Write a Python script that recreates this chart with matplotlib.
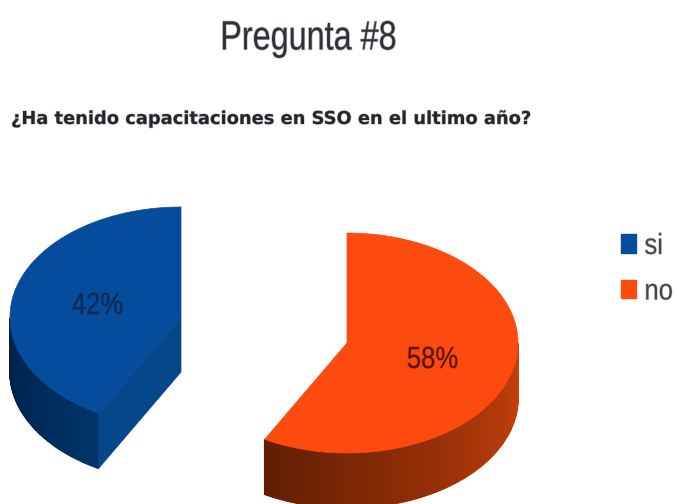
import numpy as np
import matplotlib
matplotlib.use("Agg")
import matplotlib.pyplot as plt
import matplotlib.patheffects as pe
from matplotlib.patches import Polygon, Patch
from matplotlib.colors import to_rgb
from matplotlib.transforms import Affine2D

# Data
categories = ["si", "no"]
percent_values = [42, 58]
main_title = "Pregunta #8"
question = "¿Ha tenido capacitaciones en SSO en el ultimo año?"

# Style / layout (pixels of the 677x504 canvas)
SANS = "Liberation Sans"
TOP_COLORS = ["#064c9c", "#fd4a0e"]
CUT_COLOR = "#05478b"
RIM_COLORS = [("#002048", "#003468"), ("#cc420c", "#621e02")]
LABEL_COLORS = ["#0a2a58", "#5a1408"]
CENTERS = [(181, 317), (347, 343)]
A, B = 171, 110
DEPTH = 55


class Condense(pe.AbstractPathEffect):
    """Narrow a real text horizontally about pixel column x0, with a soft edge."""

    def __init__(self, k, x0, soft=0.0):
        super().__init__()
        self.k, self.x0, self.soft = k, x0, soft

    def draw_path(self, renderer, gc, tpath, affine, rgbFace):
        squeeze = (affine + Affine2D().translate(-self.x0, 0)
                   .scale(self.k, 1).translate(self.x0, 0))
        if self.soft:
            g = renderer.new_gc()
            g.copy_properties(gc)
            g.set_linewidth(self.soft)
            g.set_foreground(rgbFace)
            g.set_alpha(0.3)
            renderer.draw_path(g, tpath, squeeze, None)
            g.restore()
        renderer.draw_path(gc, tpath, squeeze, rgbFace)


fig = plt.figure(figsize=(6.77, 5.04), dpi=100, facecolor="white")
ax = fig.add_axes([0, 0, 1, 1])
ax.set_xlim(0, 677)
ax.set_ylim(504, 0)
ax.axis("off")


def rim(cx, cy, t):
    """Point on the slice ellipse; t is degrees clockwise from the top."""
    r = np.radians(t)
    return cx + A * np.sin(r), cy - B * np.cos(r)


# slice 0 sweeps counter-clockwise from the top, slice 1 clockwise from the top
sweeps = [-360 * percent_values[0] / sum(percent_values),
          360 * percent_values[1] / sum(percent_values)]

for i, sweep in enumerate(sweeps):
    cx, cy = CENTERS[i]
    ts = np.linspace(0, sweep, 200)
    xs, ys = rim(cx, cy, ts)
    # visible outer wall: the part of the rim on the front half of the ellipse
    front = ts[np.abs(ts) >= 90]
    c0, c1 = (np.array(to_rgb(c)) for c in RIM_COLORS[i])
    for k in range(len(front) - 1):
        f = k / (len(front) - 2)
        x0, y0 = rim(cx, cy, front[k])
        x1, y1 = rim(cx, cy, front[k + 1])
        col = c0 + (c1 - c0) * f
        ax.add_patch(Polygon([(x0, y0), (x1, y1), (x1, y1 + DEPTH), (x0, y0 + DEPTH)],
                             closed=True, fc=col, ec=col, lw=1.0, zorder=2))
    # cut face visible only for the left slice
    if sweep < 0:
        ex, ey = rim(cx, cy, sweep)
        ax.add_patch(Polygon([(cx, cy), (ex, ey), (ex, ey + DEPTH), (cx, cy + DEPTH)],
                             closed=True, fc=CUT_COLOR, ec=CUT_COLOR, lw=0.5, zorder=2))
    # top surface
    ax.add_patch(Polygon(np.column_stack([np.r_[cx, xs], np.r_[cy, ys]]),
                         closed=True, fc=TOP_COLORS[i], ec=TOP_COLORS[i], lw=0.5, zorder=3))

# Percent labels
label_pos = [(97.5, 314), (432.5, 368)]
for i, v in enumerate(percent_values):
    t = ax.text(*label_pos[i], f"{v}%", ha="center", va="baseline", color=LABEL_COLORS[i],
                family=SANS, fontsize=22, zorder=4)
    t.set_path_effects([Condense(0.84, label_pos[i][0], soft=0.8)])

# Titles
t = ax.text(308.5, 49.5, main_title, ha="center", va="baseline", color="#2e3238",
            family=SANS, fontsize=29.5)
t.set_path_effects([Condense(0.79, 308.5, soft=1.0)])
t = ax.text(11, 119, question, ha="left", va="center", color="#24262b",
            family="DejaVu Sans", fontweight="bold", fontsize=12.85)
t.set_path_effects([Condense(1.0, 11, soft=0.8)])

# Legend
handles = [Patch(fc=c, ec=c) for c in TOP_COLORS]
leg = ax.legend(handles, categories, loc="upper left", bbox_to_anchor=(621 / 677, 1 - 232 / 504),
                frameon=False, handlelength=0.5, handleheight=0.6,
                handletextpad=0.3, labelspacing=0.6, borderpad=0, borderaxespad=0,
                prop={"family": SANS, "size": 21})
for t in leg.get_texts():
    t.set_color("#44474c")
    t.set_path_effects([Condense(0.88, 645, soft=0.8)])

fig.savefig("out.png", dpi=100, facecolor="white")
